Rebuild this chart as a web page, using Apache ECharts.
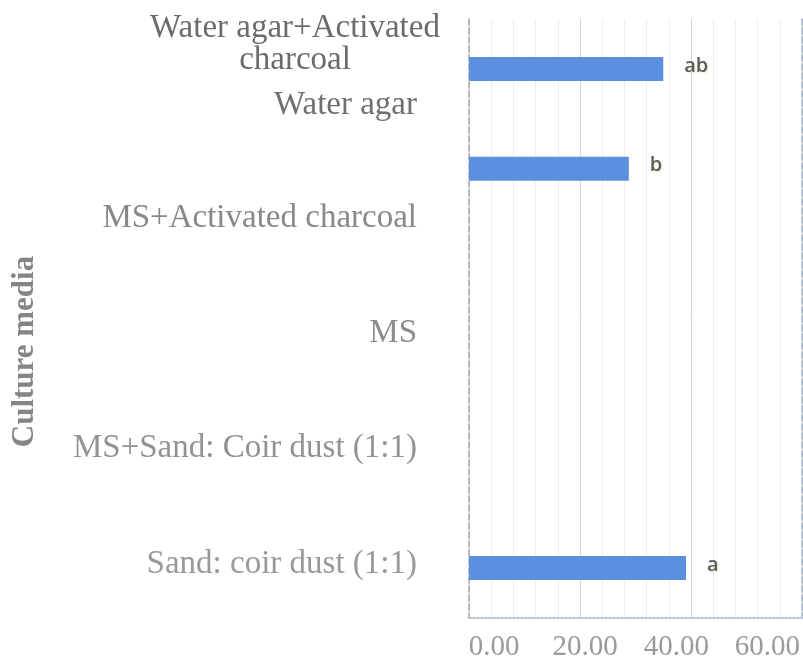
<!DOCTYPE html>
<html>
<head>
<meta charset="utf-8">
<script src="https://cdn.jsdelivr.net/npm/echarts@6/dist/echarts.min.js"></script>
<style>
  html, body { margin: 0; padding: 0; background: #ffffff; }
  #chart { width: 803px; height: 664px; }
</style>
</head>
<body>
<div id="chart"></div>
<script>
// Culture media (top to bottom)
const media = [
  'Water agar+Activated\ncharcoal',
  'Water agar',
  'MS+Activated charcoal',
  'MS',
  'MS+Sand: Coir dust (1:1)',
  'Sand: coir dust (1:1)'
];
// Mean values per medium
const germination = [35.0, 28.8, 0, 0, 0, 39.1];
// Significance letters shown beside the bars
const groupLetters = ['ab', 'b', '', '', '', 'a'];
// Value axis tick values
const xTicks = [0, 20, 40, 60];

// Layout tweaks for the category names: vertical lift (px) and colour
const nameLift = [25, 63, 50, 35, 20, 4];
const nameColor = ['#6b6b6b', '#6f6f6f', '#888888', '#8c8c8c', '#939393', '#999999'];
const NAME_FONT = 'Liberation Serif';
const NAME_SIZE = 33;
const NAME_LINE = 32;

// Rich styles: a bottom padding on every line lifts the name above its band centre
const nameRich = {};
nameLift.forEach((lift, i) => {
  nameRich['n' + i] = {
    fontFamily: NAME_FONT,
    fontSize: NAME_SIZE,
    color: nameColor[i],
    lineHeight: NAME_LINE,
    padding: [0, 0, lift * 2, 0]
  };
});

const categoryItems = media.map((name, i) => (
  i === 0
    ? { value: name, textStyle: { align: 'center', padding: [0, 244, 0, 0] } }
    : { value: name }
));

function nameFormatter(value, index) {
  return value.split('\n').map(line => `{n${index}|${line}}`).join('\n');
}

const chart = echarts.init(document.getElementById('chart'), null, { renderer: 'canvas' });

chart.setOption({
  backgroundColor: '#ffffff',
  animation: false,
  grid: [
    { left: 469, right: 1, top: 19, bottom: 46, containLabel: false },
    { left: 494, right: 32, top: 19, bottom: 46, containLabel: false }
  ],
  xAxis: [
    {
      gridIndex: 0,
      type: 'value',
      min: xTicks[0],
      max: xTicks[xTicks.length - 1],
      interval: xTicks[1] - xTicks[0],
      axisLabel: { show: false },
      axisTick: { show: false },
      axisLine: { show: true, lineStyle: { color: '#b8c2d4', type: 'dotted', width: 2 } },
      splitLine: { show: true, lineStyle: { color: '#d6d6d6', width: 1 } },
      minorTick: { show: false, splitNumber: 5 },
      minorSplitLine: { show: true, lineStyle: { color: '#eeeeee', width: 1 } }
    },
    {
      gridIndex: 1,
      type: 'value',
      min: xTicks[0],
      max: xTicks[xTicks.length - 1],
      interval: xTicks[1] - xTicks[0],
      axisLine: { show: false },
      axisTick: { show: false },
      splitLine: { show: false },
      axisLabel: {
        show: true,
        margin: 15,
        fontFamily: 'Liberation Serif',
        fontSize: 29,
        color: '#9a9a9a',
        formatter: v => v.toFixed(2)
      }
    }
  ],
  yAxis: [
    {
      gridIndex: 0,
      type: 'category',
      inverse: true,
      data: categoryItems,
      axisTick: { show: false },
      axisLine: { show: true, lineStyle: { color: '#a8a8a8', type: 'dashed', width: 1.5 } },
      axisLabel: {
        interval: 0,
        margin: 52,
        fontFamily: NAME_FONT,
        fontSize: NAME_SIZE,
        color: '#8c8c8c',
        formatter: nameFormatter,
        rich: nameRich
      },
      name: 'Culture media',
      nameLocation: 'middle',
      nameRotate: 90,
      nameGap: 429,
      nameTextStyle: {
        fontFamily: 'Liberation Serif',
        fontWeight: 'bold',
        fontSize: 31,
        color: '#858585',
        padding: [0, 66, 0, 0]
      }
    },
    {
      gridIndex: 0,
      type: 'category',
      position: 'right',
      inverse: true,
      data: media,
      axisTick: { show: false },
      axisLabel: { show: false },
      axisLine: { show: true, lineStyle: { color: '#a9b5cb', type: 'dashed', width: 1.5 } }
    },
    {
      gridIndex: 1,
      type: 'value',
      show: false,
      min: 0,
      max: 1
    }
  ],
  series: [
    {
      type: 'bar',
      xAxisIndex: 0,
      yAxisIndex: 0,
      data: germination,
      barWidth: 24,
      itemStyle: { color: '#5b8fe0' },
      label: {
        show: true,
        position: 'right',
        distance: 21,
        offset: [0, -3],
        formatter: p => groupLetters[p.dataIndex],
        fontFamily: 'Open Sans',
        fontWeight: 600,
        fontSize: 20,
        color: '#555b66',
        textShadowColor: 'rgba(230, 205, 80, 0.45)',
        textShadowBlur: 2,
        textShadowOffsetX: 1,
        textShadowOffsetY: 1
      }
    }
  ]
});
</script>
</body>
</html>
